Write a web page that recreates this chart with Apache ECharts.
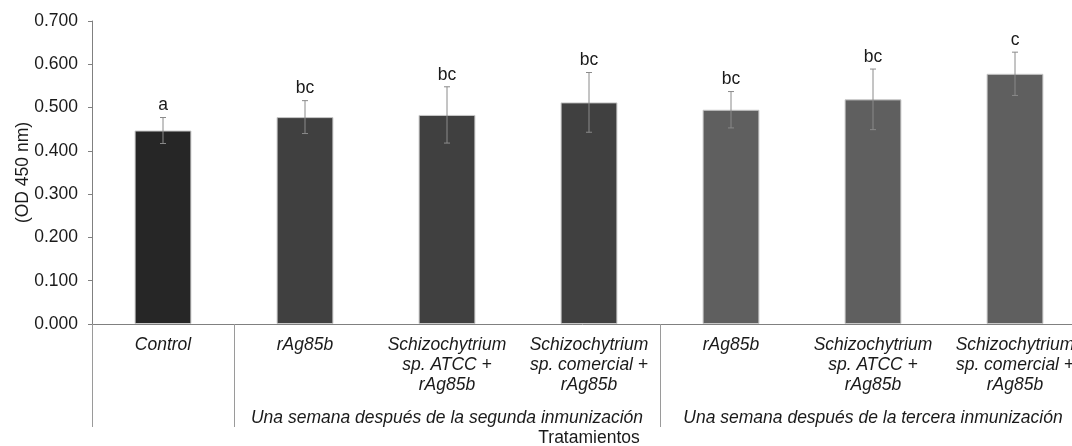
<!DOCTYPE html>
<html><head><meta charset="utf-8">
<script src="https://cdn.jsdelivr.net/npm/echarts@6/dist/echarts.min.js"></script>
<style>html,body{margin:0;padding:0;background:#fff}#c{width:1072px;height:446px}</style>
</head><body><div id="c"></div>
<script>
const categories = ['Control','rAg85b','Schizochytrium\nsp. ATCC +\nrAg85b','Schizochytrium\nsp. comercial +\nrAg85b','rAg85b','Schizochytrium\nsp. ATCC +\nrAg85b','Schizochytrium\nsp. comercial +\nrAg85b'];
const means = [0.447, 0.478, 0.483, 0.512, 0.495, 0.519, 0.578];
const errors = [0.030, 0.038, 0.065, 0.069, 0.042, 0.070, 0.050];
const letters = ['a','bc','bc','bc','bc','bc','c'];
const barGroup = [0, 1, 1, 1, 2, 2, 2];
const groupNames = ['Una semana después de la segunda inmunización','Una semana después de la tercera inmunización'];
const groupSpans = [[1, 4], [4, 7]];
const separators = [0, 1, 4];
const yMin = 0, yMax = 0.7, yStep = 0.1;
const yName = '(OD 450 nm)';
const xName = 'Tratamientos';

const palette = ['#262626', '#404040', '#5f5f5f'];
const FONT = "'Liberation Sans', Arial, sans-serif";
const TXT = '#1a1a1a';
const FS = 17.5;

const chart = echarts.init(document.getElementById('c'), null, {renderer: 'canvas'});
const groupCenters = groupSpans.map(s => (s[0] + s[1]) / 2);

chart.setOption({
  animation: false,
  backgroundColor: '#fff',
  textStyle: {fontFamily: FONT},
  grid: {left: 92, top: 21, bottom: 122, width: 994, containLabel: false, outerBoundsMode: 'none'},
  xAxis: [{
    type: 'category',
    data: categories,
    boundaryGap: true,
    axisLine: {lineStyle: {color: '#808080', width: 1}},
    axisTick: {show: false},
    axisLabel: {interval: 0, margin: 11, fontSize: FS, lineHeight: 20, fontStyle: 'italic', color: TXT, fontFamily: FONT, align: 'center', hideOverlap: false},
    splitLine: {show: false}
  }, {
    type: 'value',
    position: 'bottom',
    min: 0, max: categories.length,
    axisLine: {show: false},
    splitLine: {show: false},
    axisTick: {show: true, customValues: separators, length: 103, lineStyle: {color: '#9a9a9a', width: 1}},
    axisLabel: {
      customValues: groupCenters,
      margin: 84, fontSize: FS, lineHeight: 20, fontStyle: 'italic', color: TXT, fontFamily: FONT,
      formatter: v => {
        const k = groupCenters.findIndex(c => Math.abs(c - v) < 1e-6);
        return k >= 0 ? groupNames[k] : '';
      }
    },
    name: xName, nameLocation: 'middle', nameGap: 105, nameMoveOverlap: false,
    nameTextStyle: {fontSize: FS, color: TXT, fontFamily: FONT}
  }],
  yAxis: {
    type: 'value', min: yMin, max: yMax, interval: yStep,
    axisLine: {show: true, lineStyle: {color: '#808080'}},
    axisTick: {show: true, length: 4, lineStyle: {color: '#808080'}},
    splitLine: {show: false},
    axisLabel: {fontSize: FS, color: TXT, fontFamily: FONT, margin: 14, formatter: v => v.toFixed(3)},
    name: yName, nameLocation: 'middle', nameGap: 60, nameRotate: 90, nameMoveOverlap: false,
    nameTextStyle: {fontSize: FS, color: TXT, fontFamily: FONT}
  },
  series: [{
    type: 'bar',
    xAxisIndex: 0,
    barWidth: '40%',
    data: means.map((m, i) => ({value: m, itemStyle: {color: palette[barGroup[i]], borderColor: '#c8c8c8', borderWidth: 1}})),
    z: 2
  }, {
    type: 'custom',
    xAxisIndex: 0,
    data: means.map((m, i) => [i, m, errors[i]]),
    z: 5,
    renderItem: (params, api) => {
      const i = api.value(0), m = api.value(1), e = api.value(2);
      const top = api.coord([i, m + e]);
      const bot = api.coord([i, m - e]);
      const cap = 3;
      const st = {stroke: '#8a8a8a', lineWidth: 1};
      return {type: 'group', children: [
        {type: 'line', shape: {x1: top[0], y1: top[1], x2: bot[0], y2: bot[1]}, style: st},
        {type: 'line', shape: {x1: top[0]-cap, y1: top[1], x2: top[0]+cap, y2: top[1]}, style: st},
        {type: 'line', shape: {x1: bot[0]-cap, y1: bot[1], x2: bot[0]+cap, y2: bot[1]}, style: st},
        {type: 'text', x: top[0], y: top[1] - 3, style: {text: letters[params.dataIndex], fill: TXT, font: FS + 'px ' + FONT, textAlign: 'center', textVerticalAlign: 'bottom'}}
      ]};
    }
  }]
});
</script></body></html>
